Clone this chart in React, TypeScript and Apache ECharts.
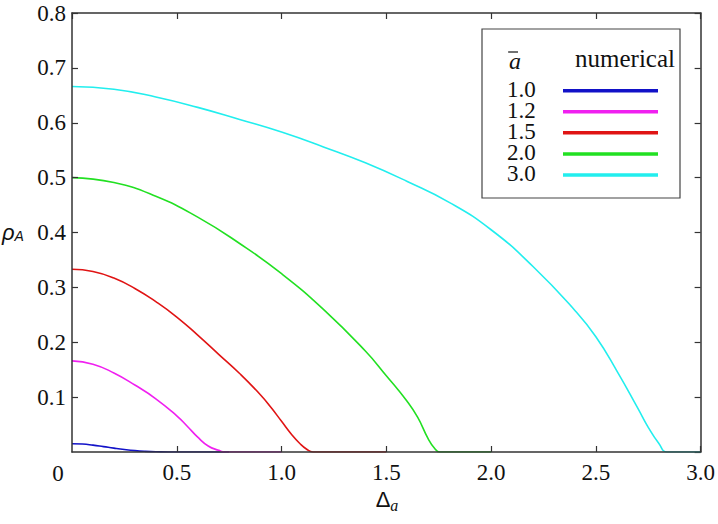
import React, { useEffect, useRef } from "react";
import * as echarts from "echarts";

// ā values and colours
const aBarLabels = ["1.0", "1.2", "1.5", "2.0", "3.0"];
const seriesColors = ["#1212c8", "#f020f0", "#e01414", "#22e022", "#22eeee"];

// Δa (x) and ρA (y)
const dBlue = [0, 0.05, 0.1, 0.15, 0.2, 0.25, 0.3, 0.35, 0.4, 0.5, 0.6, 0.75];
const rBlue = [0.015, 0.0145, 0.0125, 0.0098, 0.007, 0.0045, 0.0025, 0.0012, 0.0005, 0, 0, 0];

const dMagenta = [0, 0.1, 0.2, 0.3, 0.4, 0.5, 0.55, 0.6, 0.65, 0.7, 0.73, 0.85, 1.0];
const rMagenta = [0.166, 0.16, 0.144, 0.122, 0.097, 0.066, 0.047, 0.027, 0.011, 0.003, 0, 0, 0];

const dRed = [0, 0.1, 0.2, 0.3, 0.4, 0.5, 0.6, 0.7, 0.8, 0.9, 0.95, 1.0, 1.05, 1.086, 1.12, 1.15, 1.3, 1.5];
const rRed = [0.333, 0.329, 0.317, 0.298, 0.274, 0.246, 0.213, 0.178, 0.143, 0.104, 0.081, 0.056, 0.031, 0.016, 0.005, 0, 0, 0];

const dGreen = [0, 0.2, 0.4, 0.6, 0.8, 1.0, 1.2, 1.4, 1.5, 1.6, 1.65, 1.7, 1.73, 1.755, 1.85, 2.0];
const rGreen = [0.5, 0.491, 0.466, 0.428, 0.38, 0.325, 0.26, 0.184, 0.139, 0.092, 0.063, 0.024, 0.007, 0, 0, 0];

const dCyan = [0, 0.2, 0.4, 0.6, 0.8, 1.0, 1.2, 1.4, 1.6, 1.8, 2.0, 2.2, 2.4, 2.5, 2.6, 2.7, 2.75, 2.8, 2.84, 2.92, 3.0];
const rCyan = [0.666, 0.661, 0.647, 0.628, 0.606, 0.583, 0.556, 0.527, 0.493, 0.455, 0.405, 0.338, 0.258, 0.21, 0.148, 0.08, 0.045, 0.016, 0, 0, 0];

const xs = [dBlue, dMagenta, dRed, dGreen, dCyan];
const ys = [rBlue, rMagenta, rRed, rGreen, rCyan];

const SERIF = "Liberation Serif, Times New Roman, DejaVu Serif, serif";
const SANS = "Liberation Sans, Arial, sans-serif";
const AXIS = "#333";
const INK = "#111";

export default function App() {
  const ref = useRef<HTMLDivElement>(null);
  useEffect(() => {
    if (!ref.current) return;
    const chart = echarts.init(ref.current, undefined, { renderer: "svg" });
    const series = xs.map((xArr, i) => ({
      type: "line",
      name: aBarLabels[i],
      data: xArr.map((x, j) => [x, ys[i][j]]),
      showSymbol: false,
      smooth: 0.5,
      smoothConstraint: false,
      clip: true,
      lineStyle: { color: seriesColors[i], width: 1.6 },
      itemStyle: { color: seriesColors[i] },
      xAxisIndex: 0,
      yAxisIndex: 0,
      z: 2 + i,
    }));

    const legendX0 = 563, legendX1 = 658;
    const legendLineY = [90.7, 111.7, 132.7, 154, 175];
    const legendEls: any[] = [
      {
        type: "rect",
        shape: { x: 482, y: 29, width: 198, height: 169 },
        style: { fill: "#fff", stroke: "#444", lineWidth: 1.2 },
        z: 50,
      },
      {
        type: "text",
        x: 509,
        y: 61,
        style: { text: "a", fontFamily: SERIF, fontStyle: "italic", fontSize: 24, fill: INK, verticalAlign: "middle", align: "left" },
        z: 51,
      },
      {
        type: "line",
        shape: { x1: 508, y1: 52, x2: 518, y2: 52 },
        style: { stroke: INK, lineWidth: 1.2 },
        z: 51,
      },
      {
        type: "text",
        x: 675,
        y: 58,
        style: { text: "numerical", fontFamily: SERIF, fontSize: 25, fill: INK, verticalAlign: "middle", align: "right" },
        z: 51,
      },
    ];
    aBarLabels.forEach((lab, i) => {
      legendEls.push({
        type: "text",
        x: 507,
        y: legendLineY[i] - 1.5,
        style: { text: lab, fontFamily: SERIF, fontSize: 23, fill: INK, verticalAlign: "middle", align: "left" },
        z: 51,
      });
      legendEls.push({
        type: "line",
        shape: { x1: legendX0, y1: legendLineY[i], x2: legendX1, y2: legendLineY[i] },
        style: { stroke: seriesColors[i], lineWidth: 3.5 },
        z: 51,
      });
    });

    const tickLabelStyle = { fontFamily: SERIF, fontSize: 23, color: INK };

    chart.setOption({
      animation: false,
      backgroundColor: "#fff",
      grid: { left: 72, right: 16, top: 13, bottom: 72, containLabel: false },
      xAxis: [
        {
          type: "value",
          min: 0,
          max: 3,
          interval: 0.5,
          position: "bottom",
          z: 10,
          axisLine: { show: true, onZero: false, lineStyle: { color: AXIS, width: 1.5 } },
          axisTick: { show: true, inside: true, length: 6, lineStyle: { color: AXIS, width: 1.2 } },
          axisLabel: {
            ...tickLabelStyle,
            margin: 9,
            showMinLabel: false,
            formatter: (v: number) => (v === 0 ? "" : v.toFixed(1)),
          },
          splitLine: { show: false },
        },
        {
          type: "value",
          min: 0,
          max: 3,
          interval: 0.5,
          position: "top",
          axisLine: { show: true, onZero: false, lineStyle: { color: AXIS, width: 1.5 } },
          axisTick: { show: true, inside: true, length: 6, lineStyle: { color: AXIS, width: 1.2 } },
          axisLabel: { show: false },
          splitLine: { show: false },
        },
      ],
      yAxis: [
        {
          type: "value",
          min: 0,
          max: 0.8,
          interval: 0.1,
          position: "left",
          z: 10,
          axisLine: { show: true, onZero: false, lineStyle: { color: AXIS, width: 1.5 } },
          axisTick: { show: true, inside: true, length: 6, lineStyle: { color: AXIS, width: 1.2 } },
          axisLabel: {
            ...tickLabelStyle,
            margin: 6,
            showMinLabel: false,
            formatter: (v: number) => (v === 0 ? "" : v.toFixed(1)),
          },
          splitLine: { show: false },
        },
        {
          type: "value",
          min: 0,
          max: 0.8,
          interval: 0.1,
          position: "right",
          axisLine: { show: true, onZero: false, lineStyle: { color: AXIS, width: 1.5 } },
          axisTick: { show: true, inside: true, length: 6, lineStyle: { color: AXIS, width: 1.2 } },
          axisLabel: { show: false },
          splitLine: { show: false },
        },
      ],
      series,
      graphic: [
        {
          type: "text",
          x: 58,
          y: 473,
          style: { text: "0", fontFamily: SERIF, fontSize: 23, fill: INK, align: "center", verticalAlign: "middle" },
        },
        {
          type: "text",
          x: 387,
          y: 499,
          style: {
            text: "{d|Δ}{s|a}",
            align: "center",
            verticalAlign: "middle",
            rich: {
              d: { fontFamily: SANS, fontSize: 22, fill: INK },
              s: { fontFamily: SERIF, fontStyle: "italic", fontSize: 16, fill: INK, padding: [12, 0, 0, 0] },
            },
          },
        },
        {
          type: "text",
          x: 2,
          y: 232,
          style: {
            text: "{r|ρ}{s|A}",
            align: "left",
            verticalAlign: "middle",
            rich: {
              r: { fontFamily: SANS, fontStyle: "italic", fontSize: 22, fill: INK },
              s: { fontFamily: SANS, fontStyle: "italic", fontSize: 14, fill: INK, padding: [8, 0, 0, 0] },
            },
          },
        },
        ...legendEls,
      ],
    });
    return () => chart.dispose();
  }, []);
  return <div ref={ref} style={{ position: "fixed", left: 0, top: 0, width: 718, height: 524 }} />;
}
